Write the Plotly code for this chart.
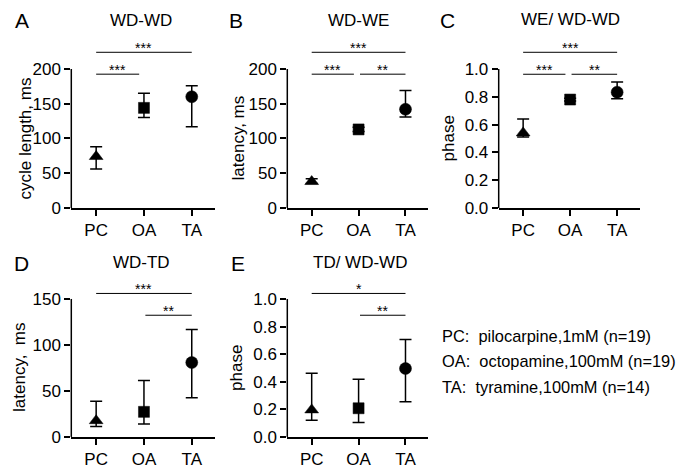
import plotly.graph_objects as go

# ---------------- data ----------------
categories = ["PC", "OA", "TA"]
symbols = ["triangle-up", "square", "circle"]

# A: WD-WD cycle length (ms) -- median, upper, lower
a_med = [74, 144, 160]
a_hi = [88, 165, 176]
a_lo = [56, 130, 117]
# B: WD-WE latency (ms)
b_med = [38, 113, 142]
b_hi = [42, 116, 169]
b_lo = [35, 110, 131]
# C: WE / WD-WD phase
c_med = [0.54, 0.78, 0.833]
c_hi = [0.64, 0.79, 0.906]
c_lo = [0.51, 0.77, 0.786]
# D: WD-TD latency (ms)
d_med = [17.7, 27.3, 80.9]
d_hi = [38.7, 61.3, 116.7]
d_lo = [11.3, 14.2, 42.6]
# E: TD / WD-WD phase
e_med = [0.196, 0.208, 0.496]
e_hi = [0.461, 0.418, 0.707]
e_lo = [0.121, 0.105, 0.255]

ms_ticks_200 = [0, 50, 100, 150, 200]
ms_ticks_150 = [0, 50, 100, 150]
phase_ticks = [0, 0.2, 0.4, 0.6, 0.8, 1.0]

# significance comparisons: (from category, to category, height, label)
a_sig = [("PC", "OA", 192.5, "***"), ("PC", "TA", 224, "***")]
b_sig = [("PC", "OA", 192.5, "***"), ("OA", "TA", 192.5, "**"), ("PC", "TA", 224, "***")]
c_sig = [("PC", "OA", 0.962, "***"), ("OA", "TA", 0.962, "**"), ("PC", "TA", 1.12, "***")]
d_sig = [("OA", "TA", 132.3, "**"), ("PC", "TA", 156, "***")]
e_sig = [("OA", "TA", 0.882, "**"), ("PC", "TA", 1.04, "*")]

legend_lines = [
    "PC:  pilocarpine,1mM (n=19)",
    "OA:  octopamine,100mM (n=19)",
    "TA:  tyramine,100mM (n=14)",
]

# ---------------- layout geometry (pixels) ----------------
W, H = 690, 469
FONT = "Arial, Liberation Sans, Helvetica, sans-serif"
col_px = [(63.3, 206.7), (279.3, 420.0), (490.7, 631.7)]
# (pixel of value 0, pixel of top tick, pixel of top of plotting area)
row_px = [(204.3, 62.3, 35.0), (438.3, 297.3, 285.0)]
XR = [-0.52, 2.48]
MARKER_SIZES = [12, 11, 12]


def nbsp(s):
    return s.replace("  ", "&nbsp; ")


panels = [
    dict(letter="A", title="WD-WD", ytitle="cycle length, ms", med=a_med, hi=a_hi, lo=a_lo,
         ticks=ms_ticks_200, fmt="d", sig=a_sig, row=0, col=0,
         letter_xy=(14, 13), title_xy=(133, 13), ytitle_x=17),
    dict(letter="B", title="WD-WE", ytitle="latency, ms", med=b_med, hi=b_hi, lo=b_lo,
         ticks=ms_ticks_200, fmt="d", sig=b_sig, row=0, col=1,
         letter_xy=(228, 13), title_xy=(350, 13), ytitle_x=230),
    dict(letter="C", title="WE/ WD-WD", ytitle="phase", med=c_med, hi=c_hi, lo=c_lo,
         ticks=phase_ticks, fmt=".1f", sig=c_sig, row=0, col=2,
         letter_xy=(440, 13), title_xy=(562, 12), ytitle_x=440),
    dict(letter="D", title="WD-TD", ytitle="latency,  ms", med=d_med, hi=d_hi, lo=d_lo,
         ticks=ms_ticks_150, fmt="d", sig=d_sig, row=1, col=0,
         letter_xy=(14, 261), title_xy=(133, 260), ytitle_x=12),
    dict(letter="E", title="TD/ WD-WD", ytitle="phase", med=e_med, hi=e_hi, lo=e_lo,
         ticks=phase_ticks, fmt=".1f", sig=e_sig, row=1, col=1,
         letter_xy=(230, 261), title_xy=(352, 260), ytitle_x=229),
]

fig = go.Figure()
annotations = []
shapes = []
layout_axes = {}


def px2x(p):
    return p / W


def px2y(p):
    return 1 - p / H


for i, p in enumerate(panels):
    n = i + 1
    xs = "" if n == 1 else str(n)
    xname, yname = "x" + xs, "y" + xs
    c0, c1 = col_px[p["col"]]
    zero_px, ttop_px, top_px = row_px[p["row"]]
    top_tick = p["ticks"][-1]
    ymax = top_tick * (zero_px - top_px) / (zero_px - ttop_px)

    layout_axes["xaxis" + xs] = dict(
        domain=[px2x(c0), px2x(c1)], anchor=yname, range=XR,
        type="category", categoryorder="array", categoryarray=categories,
        showline=True, linecolor="black", linewidth=1.5,
        ticks="outside", ticklen=6, tickwidth=1.5, tickcolor="black",
        showgrid=False, zeroline=False,
        tickfont=dict(family=FONT, size=17, color="black"),
    )
    layout_axes["yaxis" + xs] = dict(
        domain=[px2y(zero_px), px2y(top_px)], anchor=xname, range=[0, ymax],
        tickmode="array", tickvals=p["ticks"], tickformat=p["fmt"],
        showline=False, ticks="outside", ticklen=6, tickwidth=1.5, tickcolor="black",
        showgrid=False, zeroline=False,
        tickfont=dict(family=FONT, size=17, color="black"),
    )

    # y axis line only up to the top tick
    shapes.append(dict(type="line", xref=xname + " domain", yref=yname,
                       x0=0, x1=0, y0=0, y1=top_tick,
                       line=dict(color="black", width=1.5)))

    med, hi, lo = p["med"], p["hi"], p["lo"]
    fig.add_trace(go.Scatter(
        x=categories, y=med, mode="markers", xaxis=xname, yaxis=yname,
        marker=dict(symbol=symbols, size=MARKER_SIZES, color="black", opacity=1,
                    line=dict(color="black", width=0.5)),
        error_y=dict(type="data", symmetric=False,
                     array=[h - m for h, m in zip(hi, med)],
                     arrayminus=[m - l for m, l in zip(med, lo)],
                     color="black", thickness=1.5, width=6),
        cliponaxis=False, showlegend=False,
    ))

    # significance brackets
    for (ca, cb, yv, lab) in p["sig"]:
        ia, ib = categories.index(ca), categories.index(cb)
        if ib - ia == 1:
            if ia == 0:
                xa, xb = ia, ib - 0.1
            else:
                xa, xb = ia + 0.03, ib
        else:
            xa, xb = ia, ib
        shapes.append(dict(type="line", xref=xname, yref=yname,
                           x0=xa, x1=xb, y0=yv, y1=yv,
                           line=dict(color="black", width=1)))
        annotations.append(dict(x=(xa + xb) / 2, y=yv, xref=xname, yref=yname,
                                text=lab, showarrow=False, yanchor="bottom",
                                yshift=-6,
                                font=dict(family=FONT, size=14, color="black")))

    # panel letter, title, y title
    lx, ly = p["letter_xy"]
    annotations.append(dict(x=px2x(lx), y=px2y(ly), xref="paper", yref="paper",
                            text=p["letter"], showarrow=False,
                            xanchor="center", yanchor="middle",
                            font=dict(family=FONT, size=21, color="black")))
    tx, ty = p["title_xy"]
    annotations.append(dict(x=px2x(tx), y=px2y(ty), xref="paper", yref="paper",
                            text=p["title"], showarrow=False,
                            xanchor="center", yanchor="middle",
                            font=dict(family=FONT, size=17, color="black")))
    annotations.append(dict(x=px2x(p["ytitle_x"]), y=px2y((zero_px + ttop_px) / 2),
                            xref="paper", yref="paper", text=nbsp(p["ytitle"]),
                            showarrow=False, textangle=-90,
                            xanchor="center", yanchor="middle",
                            font=dict(family=FONT, size=17, color="black")))

legend_y = [335, 361, 387]
for txt, yy in zip(legend_lines, legend_y):
    annotations.append(dict(x=px2x(432), y=px2y(yy), xref="paper", yref="paper",
                            text=nbsp(txt), showarrow=False,
                            xanchor="left", yanchor="middle",
                            font=dict(family=FONT, size=16.4, color="black")))

fig.update_layout(
    width=W, height=H,
    margin=dict(l=0, r=0, t=0, b=0),
    paper_bgcolor="white", plot_bgcolor="white",
    showlegend=False,
    annotations=annotations, shapes=shapes,
    **layout_axes,
)

fig.write_html("out.html")
